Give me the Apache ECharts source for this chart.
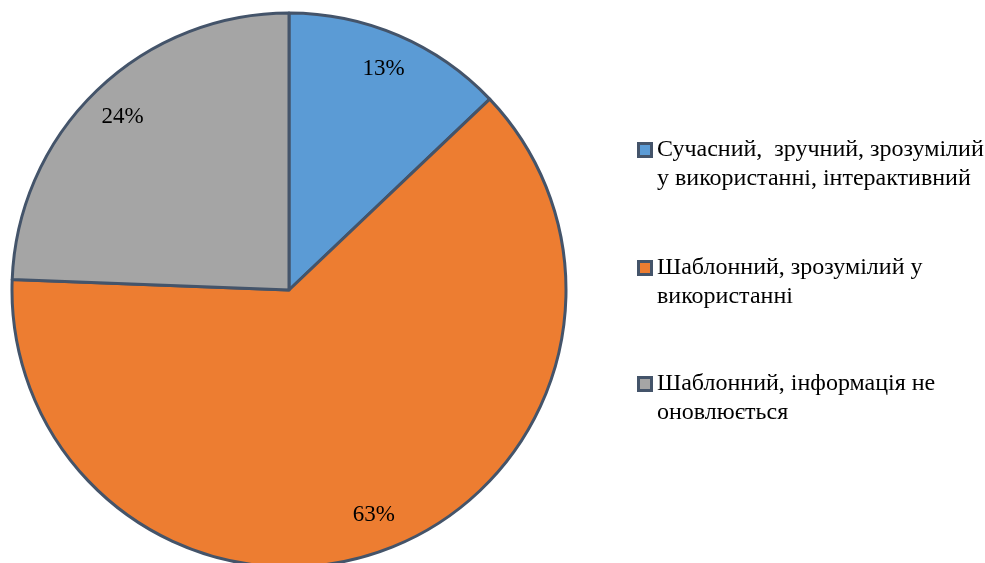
<!DOCTYPE html>
<html>
<head>
    <meta charset="utf-8">
    <title>pie</title>
    <script src="https://cdn.jsdelivr.net/npm/echarts@6/dist/echarts.min.js"></script>
    <style type="text/css">
        html, body { margin: 0; padding: 0; background: #fff; }
        #chart { width: 985px; height: 563px; }
    </style>
</head>
<body>
    <div id="chart"></div>
    <script type="text/javascript">
        // дані
        var categories = [
            'Сучасний,  зручний, зрозумілий\nу використанні, інтерактивний',
            'Шаблонний, зрозумілий у\nвикористанні',
            'Шаблонний, інформація не\nоновлюється'
        ];
        var values = [12.9, 62.7, 24.4];
        var colors = ['#5B9BD5', '#ED7D31', '#A5A5A5'];

        var legendTop = [150, 268, 384];
        var border = '#44546A';
        var serif = '"Liberation Serif", "DejaVu Serif", serif';

        var pieData = [];
        var labelData = [];
        for (var i = 0; i < categories.length; i++) {
            pieData.push({ name: categories[i], value: values[i], itemStyle: { color: colors[i] } });
            labelData.push({ name: categories[i], value: values[i] });
        }

        // легенда малюється вручну, щоб значок стояв біля першого рядка
        var legendEls = [];
        for (var j = 0; j < categories.length; j++) {
            legendEls.push({
                type: 'rect',
                shape: { x: 638.5, y: legendTop[j] - 6.5, width: 13, height: 13 },
                style: { fill: colors[j], stroke: border, lineWidth: 3 }
            });
            legendEls.push({
                type: 'text',
                x: 657,
                y: legendTop[j] - 14.5,
                style: {
                    text: categories[j],
                    font: '24px ' + serif,
                    lineHeight: 29,
                    fill: '#000',
                    verticalAlign: 'top'
                }
            });
        }

        var chart = echarts.init(document.getElementById('chart'));
        chart.setOption({
            animation: false,
            backgroundColor: '#fff',
            graphic: legendEls,
            series: [
                {
                    type: 'pie',
                    center: [289, 290],
                    radius: [0, 277],
                    startAngle: 90,
                    clockwise: true,
                    silent: true,
                    label: { show: false },
                    labelLine: { show: false },
                    itemStyle: { borderColor: border, borderWidth: 3 },
                    data: pieData
                },
                {
                    // прозорий шар лише для підписів відсотків
                    type: 'pie',
                    center: [289, 290],
                    radius: [197, 277],
                    startAngle: 90,
                    clockwise: true,
                    silent: true,
                    z: 3,
                    itemStyle: { color: 'transparent', borderWidth: 0 },
                    label: {
                        show: true,
                        position: 'inside',
                        formatter: function (p) { return Math.round(p.value) + '%'; },
                        color: '#000',
                        fontFamily: serif,
                        fontSize: 23
                    },
                    labelLine: { show: false },
                    data: labelData
                }
            ]
        });
    </script>
</body>
</html>
